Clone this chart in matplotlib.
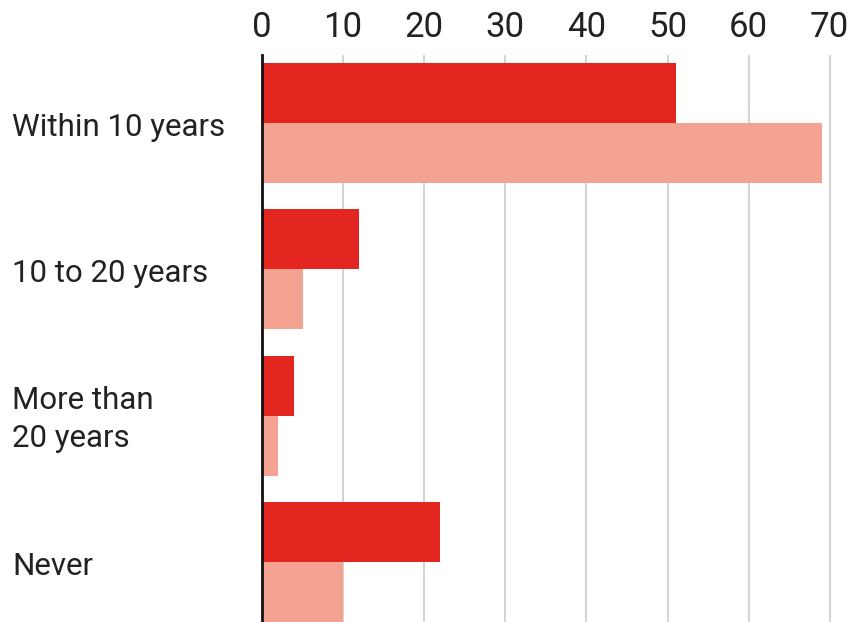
import numpy as np
import matplotlib
matplotlib.use("Agg")
import matplotlib.pyplot as plt
import matplotlib.transforms as mtransforms

# === Data ===
categories = ["Within 10 years", "10 to 20 years", "More than\n20 years", "Never"]
series_dark = [51, 12, 4, 22]
series_light = [69, 5, 2, 10]
x_ticks = [0, 10, 20, 30, 40, 50, 60, 70]

DARK = "#e3261f"
LIGHT = "#f4a392"

plt.rcParams["font.family"] = ["Roboto", "DejaVu Sans"]

W, H = 855, 622
fig = plt.figure(figsize=(W / 100, H / 100), dpi=100)
ax = fig.add_axes([262 / W, 0, (850 - 262) / W, 567 / H])

y = np.arange(len(categories))
h = 0.41
ax.barh(y - h / 2, series_dark, height=h, color=DARK, zorder=3)
ax.barh(y + h / 2, series_light, height=h, color=LIGHT, zorder=3)

ax.set_xlim(0, 72.5)
ax.set_ylim(3.41, -0.465)

ax.set_xticks(x_ticks)
ax.xaxis.tick_top()
ax.tick_params(axis="x", length=0, pad=8, labelsize=25, labelcolor="#222222")
ax.set_yticks([])
ax.grid(axis="x", color="#d4d4d4", linewidth=1.5, zorder=0)
for s in ["top", "right", "bottom"]:
    ax.spines[s].set_visible(False)
ax.spines["left"].set_color("#111111")
ax.spines["left"].set_linewidth(2)
ax.spines["left"].set_zorder(4)

# category labels, left-aligned near the figure edge
trans = mtransforms.blended_transform_factory(fig.transFigure, ax.transData)
trans = trans + mtransforms.ScaledTranslation(0, -4 / 100, fig.dpi_scale_trans)
for yi, label in zip(y, categories):
    ax.text(12 / W, yi, label, transform=trans, ha="left", va="center",
            fontsize=22.5, color="#222222", linespacing=1.4)

fig.savefig("out.png", dpi=100)
